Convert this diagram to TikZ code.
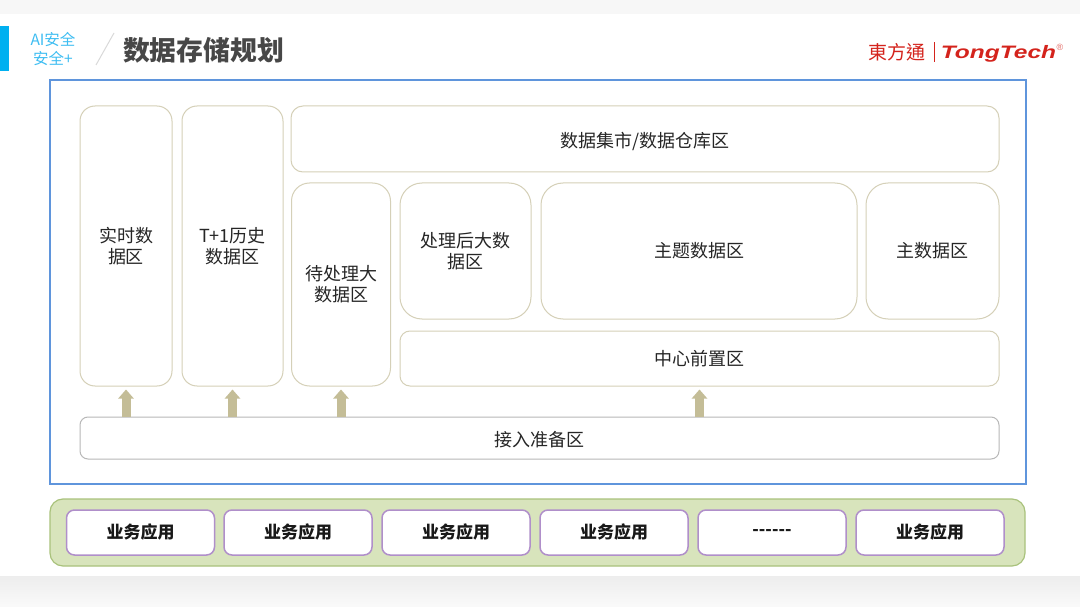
\documentclass[tikz,border=0pt]{standalone}
\usepackage{fontspec}
\setmainfont{Noto Sans CJK SC}
\newfontfamily\logocjk{Noto Sans CJK TC}
\newfontfamily\logolatin{Liberation Sans}
\usetikzlibrary{positioning,arrows.meta}
\definecolor{framebl}{HTML}{5F95DC}
\definecolor{zoneln}{HTML}{D5D0B8}
\definecolor{liftc}{HTML}{C4BD97}
\definecolor{appgrn}{HTML}{D8E4BC}
\definecolor{appln}{HTML}{A9C27C}
\definecolor{apppur}{HTML}{B08FCA}
\definecolor{subbl}{HTML}{3DBDF2}
\definecolor{barbl}{HTML}{00B0F0}
\definecolor{logored}{HTML}{D4231C}

\begin{document}
\begin{tikzpicture}[x=1pt, y=-1pt, >=Latex,
    zone/.style={draw=zoneln, line width=1pt, fill=white, inner sep=0pt, align=center,
      text=black!85, font=\fontsize{18}{21}\selectfont},
    lowered/.style={execute at begin node={\rule{0pt}{#1}}},
    lift/.style={-{Triangle[length=9pt, width=15pt]}, liftc, line width=9pt},
    appbox/.style={draw=apppur, line width=1.5pt, fill=white, rounded corners=8pt, inner sep=0pt,
      minimum width=148pt, minimum height=45pt, text=black!90, font=\fontsize{17}{20}\selectfont\bfseries}]
    \useasboundingbox (0,0) rectangle (1080,607);
    \fill[white] (0,0) rectangle (1080,607);

    % page bands and heading
    \fill[black!3] (0,0) rectangle (1080,14);
    \shade[top color=black!7, bottom color=black!2] (0,576) rectangle (1080,607);
    \fill[barbl] (0,26) rectangle (9,71);
    \node[text=subbl, align=center, inner sep=0pt, font=\fontsize{15.5}{19}\selectfont] (sect) at (53,49.3) {AI安全\\安全+};
    \coordinate (slashlo) at (96,65);
    \coordinate (slashhi) at (114,33);
    \draw[black!15, line width=1pt] (slashlo) -- (slashhi);
    \node[text=black!72, inner sep=0pt, font=\fontsize{26.8}{30}\selectfont\bfseries] (title) at (203.5,50) {数据存储规划};

    % vendor mark
    \node[text=logored, inner sep=0pt, font=\fontsize{19}{22}\selectfont\logocjk] (markcn) at (897,52) {東方通};
    \node[text=logored, inner sep=0pt, xscale=1.36, font=\fontsize{18}{20}\selectfont\logolatin\bfseries\itshape] (marken) at (998.5,53.5) {TongTech};
    \node[text=logored!70, inner sep=0pt, font=\fontsize{9}{10}\selectfont\logolatin] (markreg) at (1060,47) {®};
    \fill[logored] (933.5,42) rectangle (934.8,62);

    % storage frame
    \draw[framebl, line width=2.7pt, fill=white] (50,80) rectangle (1026,484);

    \node[zone, lowered=21.5pt, rounded corners=15pt, minimum width=92pt, minimum height=280pt] (realtime) at (126,246) {实时数\\据区};
    \node[zone, lowered=21.5pt, rounded corners=15pt, minimum width=101pt, minimum height=280pt] (history) at (232.5,246) {T+1历史\\数据区};
    \node[zone, lowered=19.5pt, rounded corners=12pt, minimum width=708pt, minimum height=66pt] (mart) at (645,139) {数据集市/数据仓库区};
    \node[zone, lowered=19.5pt, rounded corners=18pt, minimum width=99pt, minimum height=203pt] (pending) at (341,284.5) {待处理大\\数据区};
    \node[zone, lowered=19.5pt, rounded corners=22pt, minimum width=131pt, minimum height=136pt] (processed) at (465.5,251) {处理后大数\\据区};
    \node[zone, rounded corners=22pt, minimum width=316pt, minimum height=136pt] (theme) at (699,251) {主题数据区};
    \node[zone, rounded corners=22pt, minimum width=133pt, minimum height=136pt] (master) at (932.5,251) {主数据区};
    \node[zone, rounded corners=10pt, minimum width=599pt, minimum height=55pt] (front) at (699.5,358.5) {中心前置区};
    \node[zone, lowered=17.5pt, draw=black!28, rounded corners=8pt, minimum width=919pt, minimum height=42pt] (access) at (539.5,438) {接入准备区};

    \draw[lift] (access.north -| realtime.south) -- ([yshift=-3pt]realtime.south);
    \draw[lift] (access.north -| history.south) -- ([yshift=-3pt]history.south);
    \draw[lift] (access.north -| pending.south) -- ([yshift=-3pt]pending.south);
    \draw[lift] (access.north -| front.south) -- ([yshift=-3pt]front.south);

    % application tier
    \node[draw=appln, line width=1.2pt, fill=appgrn, rounded corners=13pt, inner sep=0pt,
      minimum width=975pt, minimum height=67pt] (apps) at (537.5,532.5) {};
    \foreach \i/\x/\lab in {1/140.5/业务应用, 2/298/业务应用, 3/456/业务应用, 4/614/业务应用, 5/772/-{}-{}-{}-{}-{}-, 6/930/业务应用}
      \node[appbox] (app\i) at (\x,532.5) {\lab};
\end{tikzpicture}
\end{document}
